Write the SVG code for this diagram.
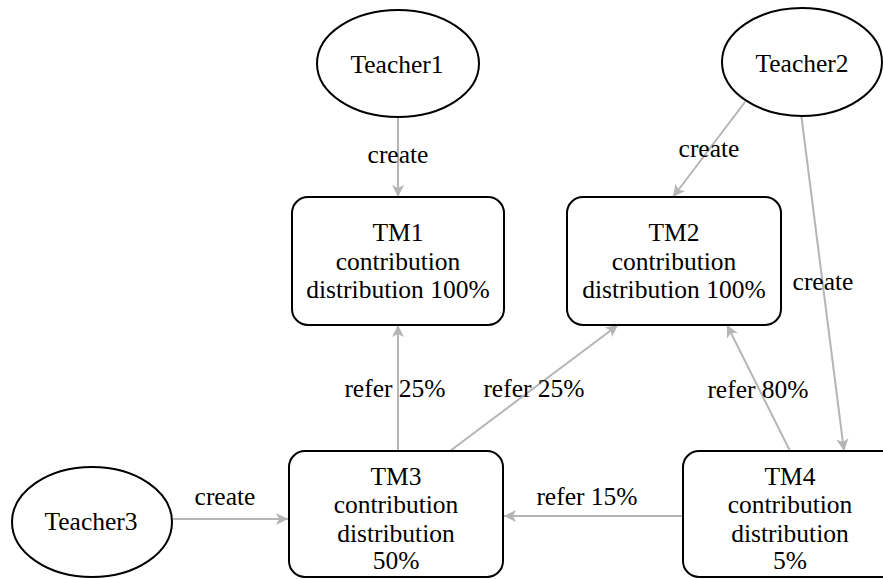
<svg xmlns="http://www.w3.org/2000/svg" width="883" height="579" viewBox="0 0 883 579">
  <defs>
    <marker id="arrow" markerUnits="userSpaceOnUse" markerWidth="14" markerHeight="14" viewBox="-1 -7 14 14" refX="12" refY="0" orient="auto">
      <path d="M0,-6 L12,0 L0,6 L3,0 Z" fill="#b5b5b5"/>
    </marker>
    <style>
      .node { fill: #ffffff; stroke: #000000; stroke-width: 2; }
      .lbl { font-size: 25.5px; fill: #000000; text-anchor: middle; }
      .edge { stroke: #b5b5b5; stroke-width: 2; fill: none; marker-end: url(#arrow); }
    </style>
  </defs>
  <rect width="883" height="579" fill="#ffffff"/>

  <g font-family="Liberation Serif, Times New Roman, serif">
  <!-- connectors -->
  <g id="edges">
    <line class="edge" x1="398" y1="117" x2="398" y2="197"/>
    <line class="edge" x1="745" y1="102" x2="673" y2="197"/>
    <line class="edge" x1="801" y1="113" x2="844" y2="451"/>
    <line class="edge" x1="173" y1="519" x2="288" y2="519"/>
    <line class="edge" x1="398" y1="451" x2="398" y2="325"/>
    <line class="edge" x1="450" y1="451" x2="618" y2="325"/>
    <line class="edge" x1="790" y1="451" x2="727" y2="325"/>
    <line class="edge" x1="683" y1="516" x2="504" y2="516"/>
    <text class="lbl" x="398" y="163">create</text>
    <text class="lbl" x="709" y="157">create</text>
    <text class="lbl" x="823" y="290">create</text>
    <text class="lbl" x="225" y="505">create</text>
    <text class="lbl" x="395" y="397">refer 25%</text>
    <text class="lbl" x="534" y="397">refer 25%</text>
    <text class="lbl" x="758" y="398">refer 80%</text>
    <text class="lbl" x="587" y="505">refer 15%</text>
  </g>

  <g id="teacher1">
    <ellipse class="node" cx="398" cy="63.5" rx="81" ry="53.5"/>
    <text class="lbl" x="397" y="73">Teacher1</text>
  </g>
  <g id="teacher2">
    <ellipse class="node" cx="802" cy="62" rx="80" ry="54"/>
    <text class="lbl" x="802" y="72">Teacher2</text>
  </g>
  <g id="teacher3">
    <ellipse class="node" cx="92" cy="522" rx="80" ry="55"/>
    <text class="lbl" x="91" y="530">Teacher3</text>
  </g>

  <g id="tm1">
    <rect class="node" x="292" y="197" width="212" height="128" rx="16"/>
    <text class="lbl" x="398" y="241">TM1</text>
    <text class="lbl" x="398" y="270">contribution</text>
    <text class="lbl" x="398" y="298">distribution 100%</text>
  </g>
  <g id="tm2">
    <rect class="node" x="567" y="197" width="214" height="128" rx="16"/>
    <text class="lbl" x="674" y="241">TM2</text>
    <text class="lbl" x="674" y="270">contribution</text>
    <text class="lbl" x="674" y="298">distribution 100%</text>
  </g>
  <g id="tm3">
    <rect class="node" x="289" y="451" width="214" height="126" rx="16"/>
    <text class="lbl" x="396" y="485">TM3</text>
    <text class="lbl" x="396" y="513">contribution</text>
    <text class="lbl" x="396" y="542">distribution</text>
    <text class="lbl" x="396" y="569">50%</text>
  </g>
  <g id="tm4">
    <rect class="node" x="683" y="451" width="214" height="126" rx="16"/>
    <text class="lbl" x="790" y="485">TM4</text>
    <text class="lbl" x="790" y="513">contribution</text>
    <text class="lbl" x="790" y="542">distribution</text>
    <text class="lbl" x="790" y="569">5%</text>
  </g>
  </g>
</svg>
